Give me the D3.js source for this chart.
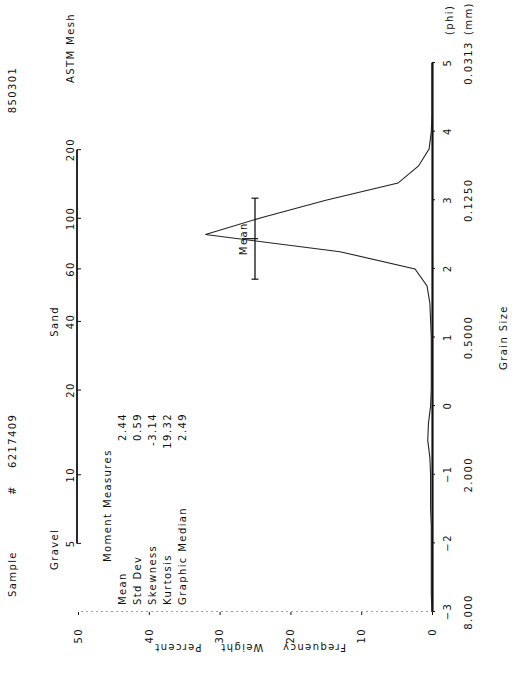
<!DOCTYPE html>
<html>
<head>
<meta charset="utf-8">
<script src="https://cdn.jsdelivr.net/npm/d3@7"></script>
<style>
  html, body { margin: 0; padding: 0; background: #fff; }
  svg { display: block; }
  text { font-family: "DejaVu Sans", sans-serif; font-size: 10px; fill: #111; letter-spacing: 1.4px; }
</style>
</head>
<body>
<svg id="chart" width="526" height="675"></svg>
<script>
// ---------------- data ----------------
const phiTicks = [-3, -2, -1, 0, 1, 2, 3, 4, 5];
const mmPhi = [-3, -1, 1, 3, 5];
const mmText = ["8.000", "2.000", "0.5000", "0.1250", "0.0313"];
const freqTicks = [0, 10, 20, 30, 40, 50];
const meshNumbers = [5, 10, 20, 40, 60, 100, 200];
const meshMM = [4.0, 2.0, 0.85, 0.425, 0.25, 0.15, 0.075];
const curvePhi = [-3, -2.75, -2.5, -2.25, -2, -1.75, -1.5, -1.25, -1, -0.75, -0.5, -0.25, 0, 0.25, 0.5, 0.75, 1, 1.25, 1.5, 1.75, 2, 2.25, 2.5, 2.75, 3, 3.25, 3.5, 3.75, 4, 4.25, 4.5, 4.75, 5];
const curveFreq = [0, 0.1, 0.1, 0.1, 0.1, 0.1, 0.2, 0.2, 0.2, 0.3, 0.6, 0.5, 0.2, 0.1, 0.1, 0.1, 0.1, 0.2, 0.3, 0.7, 2.4, 13, 32, 24, 15, 4.8, 1.9, 0.4, 0.1, 0, 0, 0, 0];
const statLabels = ["Mean", "Std Dev", "Skewness", "Kurtosis", "Graphic Median"];
const statValues = ["2.44", "0.59", "-3.14", "19.32", "2.49"];
const meanPhi = 2.44, sdPhi = 0.59, meanBarFreq = 25;

// ---------------- drawing ----------------
const svg = d3.select("#chart");
svg.append("rect").attr("width", 526).attr("height", 675).attr("fill", "#fff");
// the whole sheet is drawn in landscape and turned a quarter turn
const g = svg.append("g").attr("transform", "translate(0,675) rotate(-90)");

const x = d3.scaleLinear().domain([-3, 5]).range([63, 612]);
const y = d3.scaleLinear().domain([0, 50]).range([432, 78]);

// grain size axis (phi)
const xAxis = g.append("g").attr("transform", "translate(0,432)")
  .call(d3.axisBottom(x).tickValues(phiTicks).tickSize(3).tickPadding(9).tickSizeOuter(0));
xAxis.select(".domain").attr("stroke", "#111").attr("stroke-width", 2.2);
xAxis.selectAll(".tick line").attr("stroke", "#111");
xAxis.selectAll("text").attr("font-family", null).attr("font-size", null);

g.append("text").attr("x", 640).attr("y", 453).attr("letter-spacing", "0.8px").text("(phi)");

// mm labels
g.selectAll("text.mm").data(mmPhi).join("text").attr("class", "mm")
  .attr("x", d => x(d)).attr("y", 472).attr("text-anchor", "middle")
  .text((d, i) => mmText[i]);
g.append("text").attr("x", 640).attr("y", 472).attr("letter-spacing", "0.6px").text("(mm)");
g.append("text").attr("x", x(1)).attr("y", 507).attr("text-anchor", "middle").text("Grain Size");

// frequency axis
const yAxis = g.append("g").attr("transform", "translate(63,0)")
  .call(d3.axisLeft(y).tickValues(freqTicks).tickSize(3).tickPadding(13).tickSizeOuter(0));
yAxis.select(".domain").attr("stroke", "#444").attr("stroke-dasharray", "1,4");
yAxis.selectAll(".tick line").attr("stroke", "#111");
yAxis.selectAll("text").attr("font-family", null).attr("font-size", null);
g.append("text").attr("transform", "translate(31,250) rotate(-90)")
  .attr("text-anchor", "middle").attr("word-spacing", "14px").text("Frequency Weight Percent");

// ASTM mesh axis
const meshPhi = meshMM.map(mm => -Math.log2(mm));
g.append("line").attr("x1", x(meshPhi[0])).attr("x2", x(meshPhi[meshPhi.length - 1]))
  .attr("y1", y(50) - 1).attr("y2", y(50) - 1).attr("stroke", "#111").attr("stroke-width", 1.8);
g.selectAll("line.mesh").data(meshPhi).join("line").attr("class", "mesh")
  .attr("x1", d => x(d)).attr("x2", d => x(d)).attr("y1", y(50) - 1).attr("y2", y(50) + 3)
  .attr("stroke", "#111");
g.selectAll("text.mesh").data(meshPhi).join("text").attr("class", "mesh")
  .attr("x", d => x(d)).attr("y", y(50) - 4).attr("text-anchor", "middle")
  .text((d, i) => meshNumbers[i]);
g.append("text").attr("x", 592).attr("y", y(50) - 4).attr("letter-spacing", "0.9px").text("ASTM Mesh");
g.append("text").attr("x", x(meshPhi[0]) - 6).attr("y", 58).attr("text-anchor", "middle").text("Gravel");
g.append("text").attr("x", x(meshPhi[3])).attr("y", 58).attr("text-anchor", "middle").text("Sand");

// header
g.append("text").attr("x", 78).attr("y", 16).text("Sample");
g.append("text").attr("x", 185).attr("y", 16).attr("text-anchor", "middle").text("#");
g.append("text").attr("x", 207).attr("y", 16).attr("letter-spacing", "3.5px").text("6217409");
g.append("text").attr("x", 585).attr("y", 16).attr("text-anchor", "middle").text("850301");

// moment measures
g.append("text").attr("x", 113).attr("y", 111).text("Moment Measures");
g.selectAll("text.statL").data(statLabels).join("text").attr("class", "statL")
  .attr("x", 70).attr("y", (d, i) => 126 + i * 15).text(d => d);
g.selectAll("text.statV").data(statValues).join("text").attr("class", "statV")
  .attr("x", 262).attr("y", (d, i) => 126 + i * 15).attr("text-anchor", "end").text(d => d);

// frequency curve
const line = d3.line().x((d, i) => x(curvePhi[i])).y(d => y(d));
g.append("path").datum(curveFreq).attr("d", line)
  .attr("fill", "none").attr("stroke", "#222").attr("stroke-width", 1.1);

// mean +/- standard deviation bar
const by = y(meanBarFreq);
g.append("line").attr("x1", x(meanPhi - sdPhi)).attr("x2", x(meanPhi + sdPhi))
  .attr("y1", by).attr("y2", by).attr("stroke", "#111").attr("stroke-width", 1.3);
[meanPhi - sdPhi, meanPhi + sdPhi].forEach(p => {
  g.append("line").attr("x1", x(p)).attr("x2", x(p)).attr("y1", by - 3.5).attr("y2", by + 3.5)
    .attr("stroke", "#111").attr("stroke-width", 1.2);
});
g.append("line").attr("x1", x(meanPhi)).attr("x2", x(meanPhi)).attr("y1", by - 13).attr("y2", by + 3)
  .attr("stroke", "#111").attr("stroke-width", 1.2);
g.append("text").attr("x", x(meanPhi)).attr("y", by - 8).attr("text-anchor", "middle").text("Mean");
</script>
</body>
</html>
